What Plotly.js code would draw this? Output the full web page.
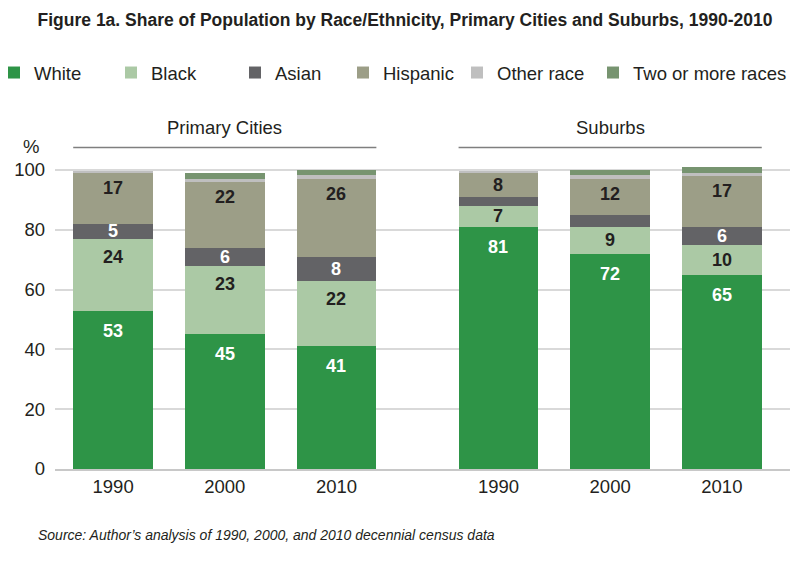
<!DOCTYPE html>
<html>
<head>
<meta charset="utf-8">
<script src="https://cdn.plot.ly/plotly-3.0.1.min.js"></script>
<style>html,body{margin:0;padding:0;background:#fff;}</style>
</head>
<body>
<div id="chart" style="width:810px;height:563px;"></div>
<script>
// ---- data ----
var groups = ['Primary Cities', 'Suburbs'];
var years = ['1990', '2000', '2010', '1990', '2000', '2010'];
var seriesNames = ['White', 'Black', 'Asian', 'Hispanic', 'Other race', 'Two or more races'];
var white = [53, 45, 41, 81, 72, 65];
var black = [24, 23, 22, 7, 9, 10];
var asian = [5, 6, 8, 3, 4, 6];
var hispanic = [17, 22, 26, 8, 12, 17];
var otherRace = [0.7, 1.0, 1.2, 0.7, 1.3, 1.1];
var twoOrMore = [0, 2.0, 1.9, 0, 1.8, 1.9];
var whiteLabels = ['53', '45', '41', '81', '72', '65'];
var blackLabels = ['24', '23', '22', '7', '9', '10'];
var asianLabels = ['5', '6', '8', '', '', '6'];
var hispanicLabels = ['17', '22', '26', '8', '12', '17'];
var yTicks = [0, 20, 40, 60, 80, 100];
var sourceText = 'Source: Author\u2019s analysis of 1990, 2000, and 2010 decennial census data';
var titleText = 'Figure 1a. Share of Population by Race/Ethnicity, Primary Cities and Suburbs, 1990-2010';

// ---- styling / layout ----
var colors = ['#2e9447', '#abc9a5', '#636366', '#9c9e87', '#bfbfbf', '#779470'];
var labelColors = ['#ffffff', '#231f20', '#ffffff', '#231f20', '#231f20', '#231f20'];
var labelMaxOffset = [20, 18, 0, 15, 0, 0]; // px below segment top (capped at half height)
var FONT = 'Liberation Sans, Arial, Helvetica, sans-serif';
var TXT = 18.5;
var groupGap = 0.45;
var xPos = years.map(function (y, i) { return i + (i >= 3 ? groupGap : 0); });
var barWidth = 0.714;

var values = [white, black, asian, hispanic, otherRace, twoOrMore];
var labels = [whiteLabels, blackLabels, asianLabels, hispanicLabels, null, null];

var W = 810, H = 563;
var mL = 55, mR = 20, mT = 164, mB = 94;
var plotW = W - mL - mR, plotH = H - mT - mB;
var yMax = 102;
var pxPerUnit = plotH / yMax;
function px2paperX(p) { return (p - mL) / plotW; }
function px2paperY(p) { return (H - mB - p) / plotH; }

var legendTextX = [34, 151, 275, 383, 497, 633];

var traces = seriesNames.map(function (name, k) {
  return {
    type: 'bar',
    name: name,
    x: xPos,
    y: values[k],
    width: barWidth,
    marker: { color: colors[k], line: { width: 0 } },
    legend: k === 0 ? 'legend' : 'legend' + (k + 1),
    showlegend: true,
    textposition: 'none',
    hoverinfo: 'none'
  };
});

var layout = {
  width: W, height: H,
  showlegend: true,
  margin: { l: mL, r: mR, t: mT, b: mB, pad: 0, autoexpand: false },
  paper_bgcolor: '#ffffff',
  plot_bgcolor: '#ffffff',
  barmode: 'stack',
  font: { family: FONT, color: '#231f20', size: TXT },
  title: {
    text: titleText,
    font: { family: FONT, size: 17.5, weight: 'bold', color: '#231f20' },
    x: 0.5, xref: 'container', xanchor: 'center',
    y: 1 - 20 / H, yref: 'container', yanchor: 'middle'
  },
  xaxis: {
    range: [-0.52, 5 + groupGap + 0.61],
    tickmode: 'array',
    tickvals: xPos,
    ticktext: years,
    tickfont: { family: FONT, size: TXT, color: '#231f20' },
    showgrid: false,
    zeroline: false,
    showline: true,
    linecolor: '#c8c8c8',
    linewidth: 2,
    ticks: '',
    automargin: false,
    fixedrange: true
  },
  yaxis: {
    range: [0, yMax],
    tickmode: 'array',
    tickvals: yTicks,
    ticktext: yTicks.map(String),
    tickfont: { family: FONT, size: TXT, color: '#231f20' },
    showgrid: true,
    gridcolor: '#d9d9d9',
    gridwidth: 2,
    zeroline: false,
    showline: false,
    ticks: '',
    ticklabelstandoff: 9,
    automargin: false,
    fixedrange: true
  },
  shapes: [],
  annotations: []
};

// separate legends so each entry sits where the original places it
seriesNames.forEach(function (name, k) {
  var key = k === 0 ? 'legend' : 'legend' + (k + 1);
  layout[key] = {
    x: px2paperX(legendTextX[k] - 40),
    xanchor: 'left',
    y: px2paperY(73),
    yanchor: 'middle',
    orientation: 'h',
    bgcolor: 'rgba(0,0,0,0)',
    borderwidth: 0,
    font: { family: FONT, size: TXT, color: '#231f20' },
    itemclick: false,
    itemdoubleclick: false
  };
});

// value labels, placed from the stacked data through the y axis
var cum = xPos.map(function () { return 0; });
values.forEach(function (vals, k) {
  xPos.forEach(function (x, i) {
    var base = cum[i];
    var top = base + vals[i];
    cum[i] = top;
    if (!labels[k] || !labels[k][i]) return;
    var hPx = vals[i] * pxPerUnit;
    var off = Math.min(hPx / 2, labelMaxOffset[k] || hPx / 2);
    layout.annotations.push({
      text: '<b>' + labels[k][i] + '</b>',
      xref: 'x', yref: 'y', x: x, y: top,
      yshift: -off, xanchor: 'center', yanchor: 'middle',
      showarrow: false,
      font: { family: FONT, size: 18, color: labelColors[k] }
    });
  });
});

// group headers with rules
var groupRanges = [[xPos[0], xPos[2]], [xPos[3], xPos[5]]];
groups.forEach(function (g, i) {
  var x0 = groupRanges[i][0] - barWidth / 2;
  var x1 = groupRanges[i][1] + barWidth / 2;
  layout.shapes.push({
    type: 'line', xref: 'x', yref: 'paper',
    x0: x0, x1: x1, y0: px2paperY(147.5), y1: px2paperY(147.5),
    line: { color: '#7f7f7f', width: 1.5 }
  });
  layout.annotations.push({
    text: g, xref: 'x', yref: 'paper',
    x: (groupRanges[i][0] + groupRanges[i][1]) / 2, y: px2paperY(128),
    xanchor: 'center', yanchor: 'middle', showarrow: false,
    font: { family: FONT, size: TXT, color: '#231f20' }
  });
});

layout.annotations.push({
  text: '%', xref: 'paper', yref: 'paper',
  x: px2paperX(31), y: px2paperY(146),
  xanchor: 'center', yanchor: 'middle', showarrow: false,
  font: { family: FONT, size: TXT, color: '#231f20' }
});

layout.annotations.push({
  text: '<i>' + sourceText + '</i>', xref: 'paper', yref: 'paper',
  x: px2paperX(36), y: px2paperY(535),
  xanchor: 'left', yanchor: 'middle', showarrow: false,
  font: { family: FONT, size: 14, color: '#231f20' }
});

Plotly.newPlot('chart', traces, layout, { displayModeBar: false, staticPlot: true });
</script>
</body>
</html>
